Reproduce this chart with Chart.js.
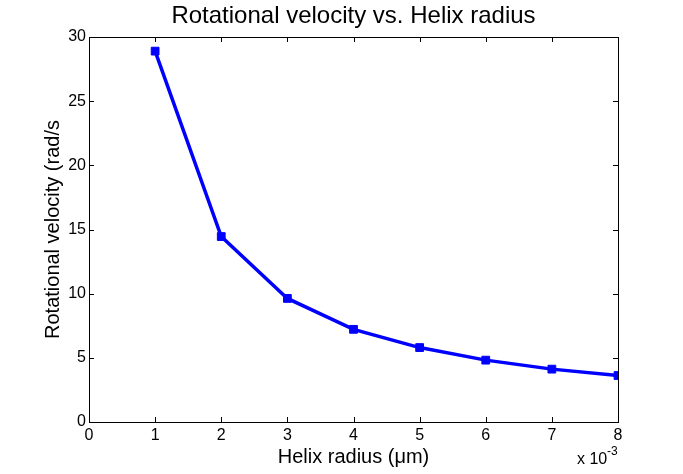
<!DOCTYPE html>
<html>
<head>
<meta charset="utf-8">
<script src="https://cdn.jsdelivr.net/npm/chart.js@4/dist/chart.umd.min.js"></script>
<style>
  html, body { margin: 0; padding: 0; background: #fff; }
  #wrap { width: 683px; height: 474px; }
</style>
</head>
<body>
<div id="wrap"><canvas id="graphe"></canvas></div>
<script>
// --- DONNÉES ---
const rayonHelice = [1, 2, 3, 4, 5, 6, 7, 8];              // x 10^-3
const vitesseRotation = [28.9, 14.45, 9.63, 7.22, 5.8, 4.82, 4.12, 3.62];
const ticksX = [0, 1, 2, 3, 4, 5, 6, 7, 8];
const ticksY = [0, 5, 10, 15, 20, 25, 30];
const TITRE = 'Rotational velocity vs. Helix radius';

const POLICE = '"Liberation Sans", Arial, Helvetica, sans-serif';
const BLEU = '#0000ff';

// Cadre fermé, petits traits vers l'intérieur sur les 4 côtés, titre centré sur la zone de tracé
const cadreMatlab = {
    id: 'cadreMatlab',
    afterDraw(chart) {
        const ctx = chart.ctx;
        const a = chart.chartArea;
        const sx = chart.scales.x, sy = chart.scales.y;
        const L = 5;
        ctx.save();
        ctx.strokeStyle = '#000';
        ctx.lineWidth = 1;
        ctx.beginPath();
        ctx.rect(a.left + 0.5, a.top + 0.5, a.right - a.left, a.bottom - a.top);
        ctx.stroke();
        ctx.beginPath();
        ticksX.forEach(v => {
            const px = Math.round(sx.getPixelForValue(v)) + 0.5;
            ctx.moveTo(px, a.bottom); ctx.lineTo(px, a.bottom - L);
            ctx.moveTo(px, a.top); ctx.lineTo(px, a.top + L);
        });
        ticksY.forEach(v => {
            const py = Math.round(sy.getPixelForValue(v)) + 0.5;
            ctx.moveTo(a.left, py); ctx.lineTo(a.left + L, py);
            ctx.moveTo(a.right, py); ctx.lineTo(a.right - L, py);
        });
        ctx.stroke();

        ctx.fillStyle = '#000';
        // titre
        ctx.textAlign = 'center';
        ctx.textBaseline = 'alphabetic';
        ctx.font = '24px ' + POLICE;
        ctx.fillText(TITRE, (a.left + a.right) / 2, 23);

        // multiplicateur d'échelle de l'axe x
        ctx.textAlign = 'left';
        ctx.font = '16px ' + POLICE;
        ctx.fillText('x 10', a.right - 41, a.bottom + 42);
        ctx.font = '12px ' + POLICE;
        ctx.fillText('-3', a.right - 11, a.bottom + 33);
        ctx.restore();
    }
};

const ctx = document.getElementById('graphe');
new Chart(ctx, {
    type: 'line',
    data: {
        datasets: [{
            data: rayonHelice.map((x, i) => ({ x: x, y: vitesseRotation[i] })),
            borderColor: BLEU,
            backgroundColor: BLEU,
            borderWidth: 3.5,
            pointStyle: 'rect',
            pointRadius: 5.5,
            pointBorderWidth: 1,
            pointBackgroundColor: BLEU,
            pointBorderColor: BLEU,
            tension: 0
        }]
    },
    options: {
        responsive: true,
        maintainAspectRatio: false,
        animation: false,
        layout: { padding: { left: 0, right: 65, top: 37, bottom: 0 } },
        plugins: {
            legend: { display: false },
            tooltip: { enabled: false },
            title: { display: false }
        },
        scales: {
            x: {
                type: 'linear',
                min: 0, max: 8,
                afterBuildTicks: s => { s.ticks = ticksX.map(v => ({ value: v })); },
                afterFit: s => { s.height = 52; },
                grid: { display: false, drawTicks: false },
                border: { display: true, color: '#000', width: 1 },
                ticks: { color: '#000', padding: 4, font: { family: POLICE, size: 16 } },
                title: {
                    display: true,
                    text: 'Helix radius (μm)',
                    color: '#000',
                    font: { family: POLICE, size: 20 },
                    padding: { top: 0, bottom: 5 }
                }
            },
            y: {
                min: 0, max: 30,
                afterBuildTicks: s => { s.ticks = ticksY.map(v => ({ value: v })); },
                afterFit: s => { s.width = 89; },
                grid: { display: false, drawTicks: false },
                border: { display: true, color: '#000', width: 1 },
                ticks: { color: '#000', padding: 3, font: { family: POLICE, size: 16 } },
                title: {
                    display: true,
                    text: 'Rotational velocity (rad/s',
                    color: '#000',
                    font: { family: POLICE, size: 20 },
                    padding: { top: 41, bottom: 0 }
                }
            }
        }
    },
    plugins: [cadreMatlab]
});
</script>
</body>
</html>
